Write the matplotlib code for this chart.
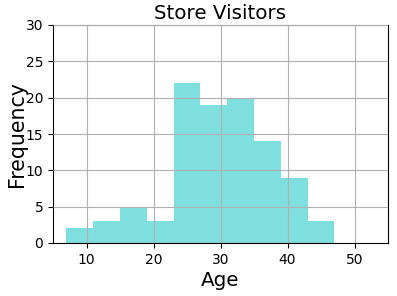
import numpy as np
import matplotlib
matplotlib.use('Agg')
import matplotlib.pyplot as plt

# histogram of visitor ages
bin_edges = [7, 11, 15, 19, 23, 27, 31, 35, 39, 43, 47]
counts = [2, 3, 5, 3, 22, 19, 20, 14, 9, 3]

fig = plt.figure(figsize=(3.97, 2.96), dpi=100)
ax = fig.subplots()
plt.subplots_adjust(left=53 / 397, right=388 / 397, top=1 - 25 / 296, bottom=1 - 243 / 296)

ax.hist(bin_edges[:-1], bins=bin_edges, weights=counts, color='c', alpha=0.5)
ax.grid(True, color='#b0b0b0', linewidth=0.8)
ax.set_axisbelow(False)

ax.set_xlim(5, 55)
ax.set_ylim(0, 30)
ax.set_title('Store Visitors', fontsize=14.3, pad=4)
ax.set_xlabel('Age', fontsize=14.3, labelpad=3)
ax.set_ylabel('Frequency', fontsize=14.8)
ax.yaxis.set_label_coords(-0.078, 0.5)
ax.tick_params(labelsize=10)

fig.savefig('out.png', dpi=100)
